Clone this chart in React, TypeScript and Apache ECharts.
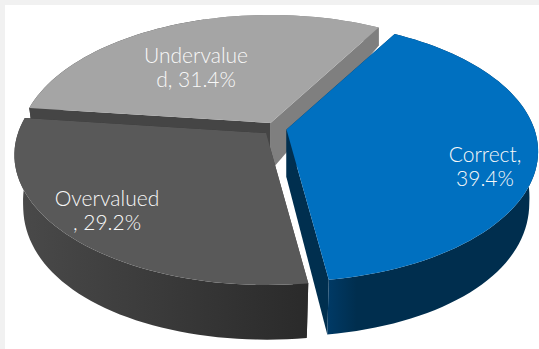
import React, { useEffect, useRef } from "react";
import * as echarts from "echarts";

// Share of valuations, drawn counter-clockwise from the upper right so later slices paint over earlier ones.
const categories = ["Undervalued", "Overvalued", "Correct"];
const shares = [31.4, 29.2, 39.4];
const labelLines = [
  ["Undervalue", "d, 31.4%"],
  ["Overvalued", ", 29.2%"],
  ["Correct,", "39.4%"],
];

const START_DEG = 300;

// Perspective of the tilted disc.
const RX = 248;
const RY = 126.3;
const KEYSTONE = 0.169;

const sliceLooks = [
  {
    cx: 270.5, cy: 123, top: "#a5a5a5", startWall: "#7f7f7f", endWall: "#454545",
    rim: ["#454545", "#7f7f7f"], rimStop: 0.5, label: [196, 66],
  },
  {
    cx: 266, cy: 133, top: "#595959", startWall: "#2b2b2b", endWall: "#454545",
    rim: ["#4a4a4a", "#2a2a2a"], rimStop: 1, label: [107, 209],
  },
  {
    cx: 286.5, cy: 129.5, top: "#0070c0", startWall: "#002f4f", endWall: "#002f4f",
    rim: ["#003a66", "#002e4e"], rimStop: 0.14, label: [485, 165],
  },
];

function wallDepth(y: number) {
  return 48 + 21.5 * y - 14.8 * y * y;
}

// Maps a point of the disc (unit radius) onto the page, on its upper or lower face.
function project(cx: number, cy: number, x: number, y: number, lower: boolean) {
  const w = 1 - KEYSTONE * y;
  const sx = (RX * x) / w;
  const sy = cy + (RY * y) / w;
  if (!lower) return [cx + sx, sy];
  const shrink = 0.035 * Math.min(1, Math.max(0, y + 0.83));
  return [cx + sx * (1 - shrink), sy + wallDepth(y)];
}

function arcPoints(fromDeg: number, toDeg: number) {
  const steps = Math.max(2, Math.round(Math.abs(toDeg - fromDeg) / 2));
  const pts: number[][] = [];
  for (let i = 0; i <= steps; i++) {
    const a = ((fromDeg + ((toDeg - fromDeg) * i) / steps) * Math.PI) / 180;
    pts.push([Math.cos(a), Math.sin(a)]);
  }
  return pts;
}

function renderSlice(params: any, api: any) {
  const i = params.dataIndex;
  const look = sliceLooks[i];
  const before = shares.slice(0, i).reduce((a, b) => a + b, 0);
  const total = shares.reduce((a, b) => a + b, 0);
  const value = api.value(0);
  const from = START_DEG - (before / total) * 360;
  const to = from - (value / total) * 360;
  const arc = arcPoints(from, to);
  const up = (p: number[]) => project(look.cx, look.cy, p[0], p[1], false);
  const low = (p: number[]) => project(look.cx, look.cy, p[0], p[1], true);
  const apex = [0, 0];
  const first = arc[0];
  const last = arc[arc.length - 1];
  const poly = (points: number[][], fill: any) => ({
    type: "polygon",
    shape: { points },
    style: { fill },
  });
  const rimFill = new echarts.graphic.LinearGradient(0, 0, 1, 0, [
    { offset: 0, color: look.rim[0] },
    { offset: look.rimStop, color: i === 0 ? look.rim[0] : look.rim[1] },
    { offset: look.rimStop, color: look.rim[1] },
    { offset: 1, color: look.rim[1] },
  ]);
  const lines = labelLines[i];
  return {
    type: "group",
    children: [
      poly([up(apex), up(first), low(first), low(apex)], look.startWall),
      poly([up(apex), up(last), low(last), low(apex)], look.endWall),
      poly([...arc.map(up), ...arc.map(low).reverse()], rimFill),
      poly([up(apex), ...arc.map(up)], look.top),
      {
        type: "text",
        x: look.label[0],
        y: look.label[1],
        style: {
          text: lines.join("\n"),
          fill: "#f8f8f8",
          font: '300 21px Lato, sans-serif',
          lineHeight: 24,
          align: "center",
          verticalAlign: "middle",
        },
      },
    ],
  };
}

export default function App() {
  const ref = useRef<HTMLDivElement>(null);
  useEffect(() => {
    document.body.style.margin = "0";
    const chart = echarts.init(ref.current!, undefined, { renderer: "svg" });
    chart.setOption({
      animation: false,
      backgroundColor: "#f1f1f1",
      graphic: [
        {
          type: "rect",
          z: -1,
          shape: { x: 5, y: 5, width: 534, height: 344 },
          style: { fill: "#ffffff" },
        },
      ],
      series: [
        {
          type: "custom",
          coordinateSystem: "none",
          renderItem: renderSlice,
          clip: false,
          data: categories.map((name, i) => ({ name, value: [shares[i]] })),
        },
      ],
    });
    return () => chart.dispose();
  }, []);
  return <div ref={ref} style={{ width: 539, height: 349 }} />;
}
